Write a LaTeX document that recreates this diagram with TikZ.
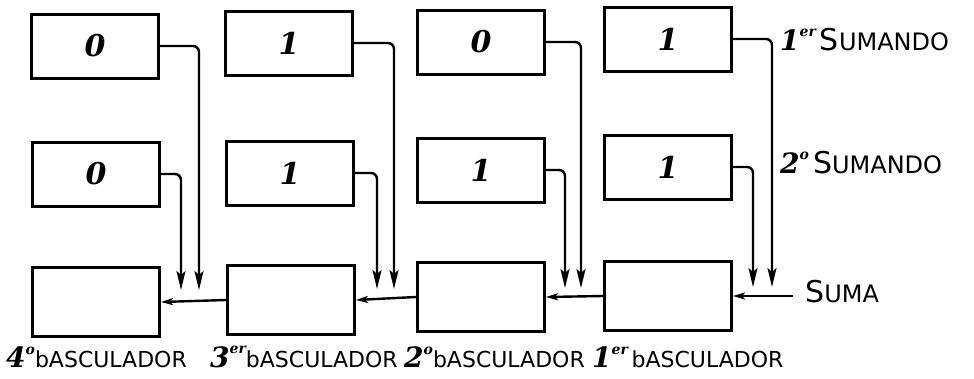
\documentclass[tikz,border=0pt]{standalone}
\usepackage{fontspec}
\setmainfont{DejaVu Serif}
\newfontfamily\labfont{DejaVu Sans}
\usetikzlibrary{arrows.meta}
\begin{document}
\begin{tikzpicture}[x=1pt,y=-1pt,
  reg/.style={draw, line width=3pt, minimum width=127pt, minimum height=64pt, inner sep=0pt,
    font=\fontsize{30}{30}\selectfont\bfseries\itshape},
  wire/.style={line width=2.4pt, rounded corners=6pt},
  arr/.style={wire, -{Stealth[length=19pt,width=9pt,inset=4pt]}},
  harr/.style={wire, -{Stealth[length=12pt,width=7pt,inset=3pt]}},
  lab/.style={anchor=west, inner sep=0pt, font=\labfont\fontsize{24}{24}\selectfont},
  blab/.style={anchor=west, inner sep=0pt, font=\labfont\fontsize{22}{22}\selectfont}]
\useasboundingbox (0,0) rectangle (974,378);
\newcommand{\numr}[1]{{\rmfamily\bfseries\itshape\fontsize{28}{28}\selectfont #1}}
\newcommand{\supr}[1]{\raisebox{1.1ex}{\rmfamily\bfseries\itshape\fontsize{14}{14}\selectfont #1}}
% top row
\node[reg] (T1) at (95,46) {0};
\node[reg] (T2) at (289,43) {1};
\node[reg] (T3) at (481,42) {0};
\node[reg] (T4) at (668,39) {1};
% middle row
\node[reg] (M1) at (96,174) {0};
\node[reg] (M2) at (290,173) {1};
\node[reg] (M3) at (481,170) {1};
\node[reg] (M4) at (668,167) {1};
% bottom row
\node[reg, minimum height=69pt] (B1) at (96,302) {};
\node[reg, minimum height=69pt] (B2) at (291,300) {};
\node[reg, minimum height=69pt] (B3) at (481,297) {};
\node[reg, minimum height=69pt] (B4) at (668,296) {};
% arrow end points
\coordinate (e1t) at (199,290);
\coordinate (e1m) at (181,290);
\coordinate (e2t) at (394,289);
\coordinate (e2m) at (377,289);
\coordinate (e3t) at (581,288);
\coordinate (e3m) at (565,288);
\coordinate (e4t) at (772,287);
\coordinate (e4m) at (753,287);
\coordinate (sin) at (793,296);
% connectors
\draw[arr] (T1.east) -| (e1t);
\draw[arr] (M1.east) -| (e1m);
\draw[arr] (T2.east) -| (e2t);
\draw[arr] (M2.east) -| (e2m);
\draw[arr] (T3.east) -| (e3t);
\draw[arr] (M3.east) -| (e3m);
\draw[arr] (T4.east) -| (e4t);
\draw[arr] (M4.east) -| (e4m);
\draw[harr] (sin) -- (B4.east);
\draw[harr] (B4.west) -- (B3.east);
\draw[harr] (B3.west) -- (B2.east);
\draw[harr] (B2.west) -- (B1.east);
% labels
\node[lab] (L1) at (780,40) {\numr{1}\supr{er}\,{\fontsize{30}{30}\selectfont S}UMANDO};
\node[lab] (L2) at (780,163) {\numr{2}\supr{o}\,{\fontsize{30}{30}\selectfont S}UMANDO};
\node[lab] (L3) at (805,292) {{\fontsize{30}{30}\selectfont S}UMA};
\node[blab] (P4) at (6,357) {\numr{4}\supr{o}bASCULADOR};
\node[blab] (P3) at (210,357) {\numr{3}\supr{er}bASCULADOR};
\node[blab] (P2) at (404,357) {\numr{2}\supr{o}bASCULADOR};
\node[blab] (P1) at (592,357) {\numr{1}\supr{er}\,bASCULADOR};
\end{tikzpicture}
\end{document}
